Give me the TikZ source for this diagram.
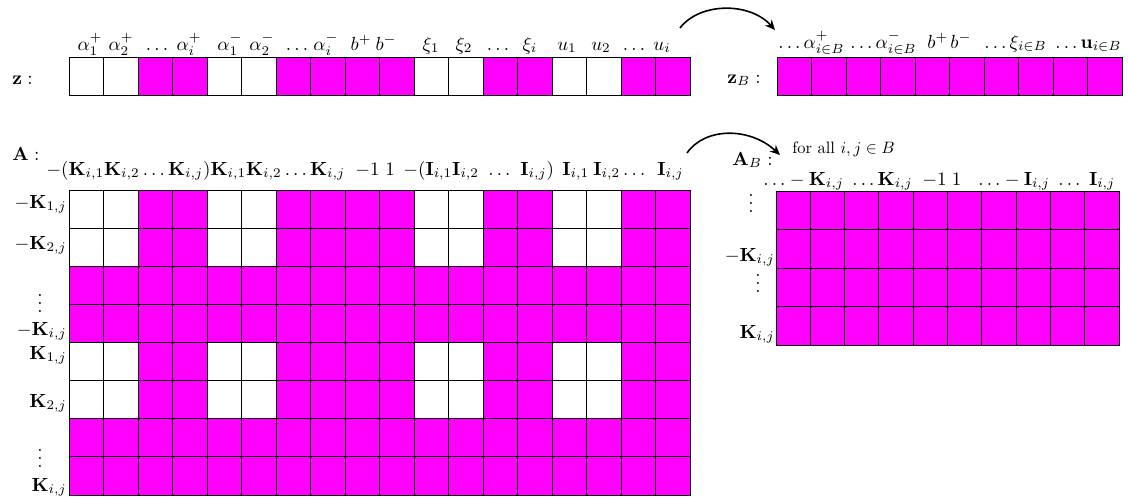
\documentclass[tikz,border=0pt]{standalone}
\usepackage{amsmath,amssymb}
\usetikzlibrary{arrows.meta}
\definecolor{mag}{RGB}{255,0,255}
\newcommand{\tightvdots}{\vbox{\baselineskip4pt\lineskiplimit0pt\hbox{.}\hbox{.}\hbox{.}}}
\tikzset{
  cell/.style={draw=black,line width=1pt},
  lab/.style={inner sep=0pt,scale=1.9},
  smalllab/.style={inner sep=0pt,scale=1.65},
  bendarrow/.style={line width=1.6pt,-{Stealth[length=10pt,width=9pt]}}
}
\begin{document}
\begin{tikzpicture}[x=1pt,y=-1pt]
\useasboundingbox (0,0) rectangle (1128,498);
% ---- z vector
\foreach \k in {0,...,17}{\path[cell,fill=mag] ({69+34.5*\k},57) rectangle ++(34.5,38);}
\foreach \k in {0,1,4,5,10,11,14,15}{\path[cell,fill=white] ({69+34.5*\k},57) rectangle ++(34.5,38);}
% ---- z_B vector
\foreach \k in {0,...,9}{\path[cell,fill=mag] ({777+34.5*\k},57) rectangle ++(34.5,38);}
% ---- A matrix
\foreach \r in {0,...,7}{\foreach \k in {0,...,17}{\path[cell,fill=mag] ({69+34.5*\k},{190+38.125*\r}) rectangle ++(34.5,38.125);}}
\foreach \r in {0,1,4,5}{\foreach \k in {0,1,4,5,10,11,14,15}{\path[cell,fill=white] ({69+34.5*\k},{190+38.125*\r}) rectangle ++(34.5,38.125);}}
% ---- A_B matrix
\foreach \r in {0,...,3}{\foreach \k in {0,...,9}{\path[cell,fill=mag] ({776+34.3*\k},{191+38.5*\r}) rectangle ++(34.3,38.5);}}
% ---- labels
\node[lab,anchor=base west] (zlab) at (12,84) {$\mathbf{z}:$};
\node[lab,anchor=base west] (zblab) at (727,83) {$\mathbf{z}_B:$};
\node[lab,anchor=base west] (alab) at (12,160) {$\mathbf{A}:$};
\node[lab,anchor=base west] (ablab) at (732,165) {$\mathbf{A}_B:$};
\node[smalllab,anchor=base west] (forall) at (792,153) {for all $i,j\in B$};
% z header
\foreach \x/\t [count=\n] in {90/{$\alpha_1^+$},121/{$\alpha_2^+$},157/{$\ldots$},189/{$\alpha_i^+$},
  230/{$\alpha_1^-$},262/{$\alpha_2^-$},297/{$\ldots$},326/{$\alpha_i^-$},361/{$b^+$},386/{$b^-$},
  431/{$\xi_1$},464/{$\xi_2$},498/{$\ldots$},530/{$\xi_i$},567/{$u_1$},601/{$u_2$},634/{$\ldots$},662/{$u_i$}}
  {\node[lab,anchor=base] (zh\n) at (\x,50) {\t};}
% z_B header
\foreach \x/\t [count=\n] in {778/{$\ldots\alpha^+_{i\in B}$},850/{$\ldots\alpha^-_{i\in B}$},927/{$b^+$},950/{$b^-$},
  984/{$\ldots\xi_{i\in B}$},1055/{$\ldots\mathbf{u}_{i\in B}$}}
  {\node[lab,anchor=base west] (zbh\n) at (\x,48) {\t};}
% A header
\foreach \x/\t [count=\n] in {46/{$-(\mathbf{K}_{i,1}\mathbf{K}_{i,2}\ldots\mathbf{K}_{i,j})\mathbf{K}_{i,1}\mathbf{K}_{i,2}\ldots\mathbf{K}_{i,j}$},
  355/{$-1$},385/{$1$},403/{$-(\mathbf{I}_{i,1}\mathbf{I}_{i,2}$},488/{$\ldots$},520/{$\mathbf{I}_{i,j})$},
  562/{$\mathbf{I}_{i,1}$},593/{$\mathbf{I}_{i,2}\ldots$},657/{$\mathbf{I}_{i,j}$}}
  {\node[lab,anchor=base west] (ah\n) at (\x,175) {\t};}
% A_B header
\foreach \x/\t [count=\n] in {763/{$\ldots-\mathbf{K}_{i,j}$},852/{$\ldots\mathbf{K}_{i,j}$},922/{$-1\;1$},
  978/{$\ldots-\mathbf{I}_{i,j}$},1058/{$\ldots\;\mathbf{I}_{i,j}$}}
  {\node[lab,anchor=base west] (abh\n) at (\x,185) {\t};}
% A row labels
\foreach \y/\t [count=\n] in {208/{$-\mathbf{K}_{1,j}$},249/{$-\mathbf{K}_{2,j}$},335/{$-\mathbf{K}_{i,j}$},
  359/{$\mathbf{K}_{1,j}$},407/{$\mathbf{K}_{2,j}$},491/{$\mathbf{K}_{i,j}$}}
  {\node[lab,anchor=base east] (ar\n) at (67,\y) {\t};}
\node[lab,anchor=base] (av1) at (40,312) {\tightvdots};
\node[lab,anchor=base] (av2) at (40,467) {\tightvdots};
% A_B row labels
\node[lab,anchor=base] (abv1) at (751,212) {\tightvdots};
\node[lab,anchor=base east] (abr1) at (775,261) {$-\mathbf{K}_{i,j}$};
\node[lab,anchor=base] (abv2) at (758,292) {\tightvdots};
\node[lab,anchor=base east] (abr2) at (775,338) {$\mathbf{K}_{i,j}$};
% arrows
\coordinate (a1s) at (680,28);
\coordinate (a1e) at (775,30);
\draw[bendarrow] (a1s) .. controls (700,2) and (750,2) .. (a1e);
\coordinate (a2s) at (687,153);
\coordinate (a2e) at (780,155);
\draw[bendarrow] (a2s) .. controls (705,127) and (750,127) .. (a2e);
\end{tikzpicture}
\end{document}
